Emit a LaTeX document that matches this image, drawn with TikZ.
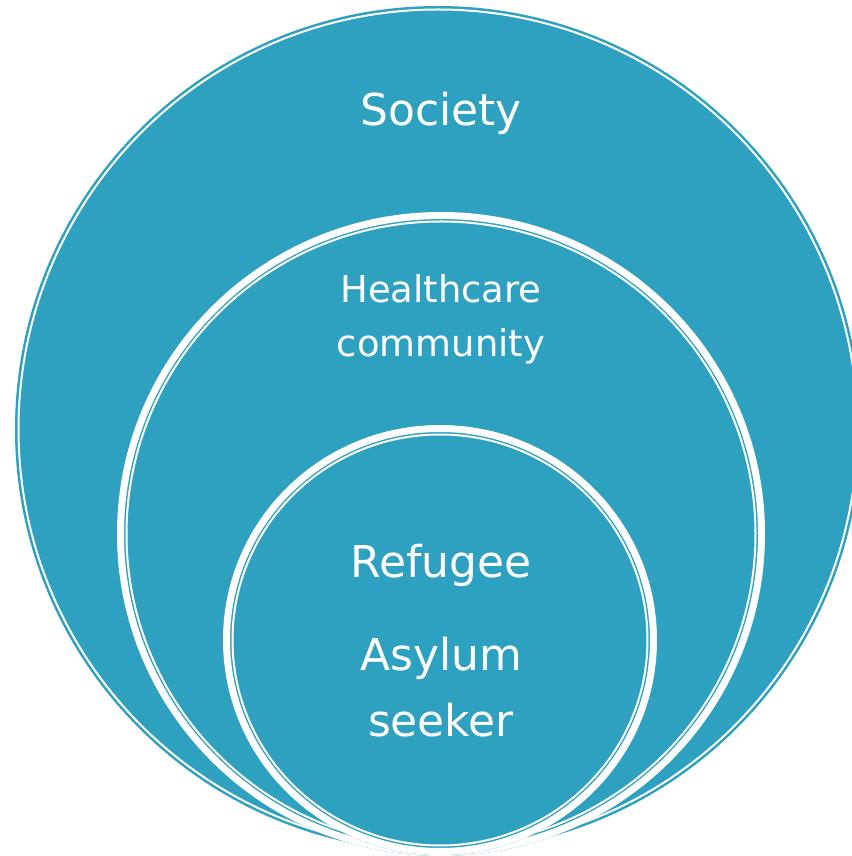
\documentclass[tikz,border=0pt]{standalone}
\usepackage{fontspec}
\setmainfont{DejaVu Sans}
\usepackage{xcolor}
\usepackage{tikz}
\definecolor{disc}{HTML}{2DA1BF}
\definecolor{text}{HTML}{FFFFFF}
% disc with a thick white rim and a thin white line inside it
\newcommand{\Ring}[4]{%
  \fill[color=disc] (#1,#2) ellipse [x radius=#3, y radius=#4];
  \draw[color=text, line width=0.14cm] (#1,#2) ellipse [x radius=#3-3.5, y radius=#4-3.5];
  \draw[color=text, line width=0.04cm] (#1,#2) ellipse [x radius=#3-9.5, y radius=#4-9.5];
}
\begin{document}
\begin{tikzpicture}[x=0.02cm,y=0.02cm]
  \useasboundingbox (0,0) rectangle (852,856);
  \clip (0,0) rectangle (852,856);
  % outer disc: blue edge, thin white line
  \fill[color=disc] (438,427) circle [radius=423];
  \draw[color=text, line width=0.04cm] (438,427) circle [radius=419.5];
  \Ring{441}{322}{324}{322}
  \Ring{440}{216}{217}{215}
  \node[anchor=base, color=text, font=\fontsize{25}{30}\selectfont] (society) at (441,730) {Society};
  \node[anchor=base, color=text, align=center, font=\fontsize{21}{31.2}\selectfont] (health) at (441,499) {Healthcare\\community};
  \node[anchor=base, color=text, font=\fontsize{25}{30}\selectfont] (refugee) at (441,278) {Refugee};
  \node[anchor=base, color=text, align=center, font=\fontsize{25}{38}\selectfont] (asylum) at (441,119) {Asylum\\seeker};
\end{tikzpicture}
\end{document}
